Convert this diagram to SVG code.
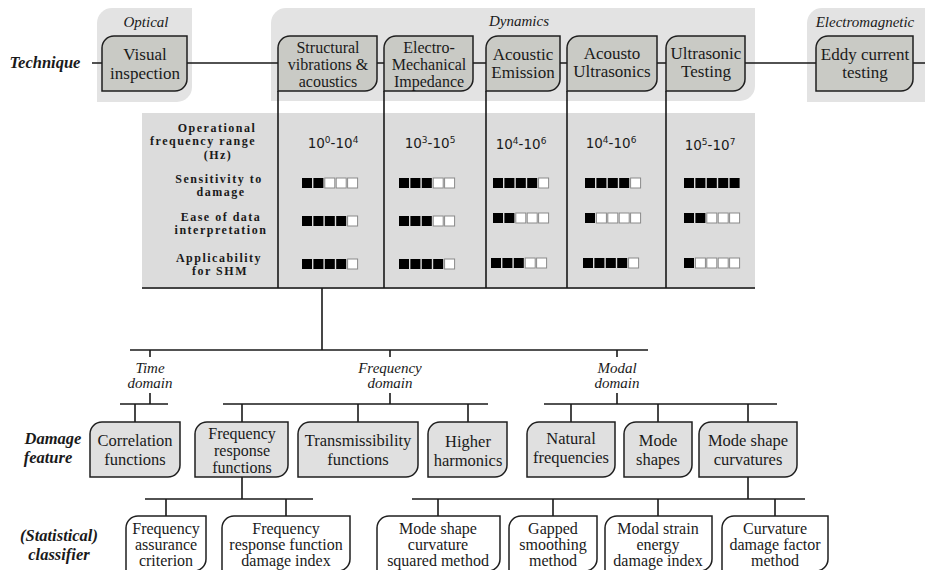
<svg xmlns="http://www.w3.org/2000/svg" width="925" height="570" viewBox="0 0 925 570">
<style>
.bg{fill:#e3e3e3;stroke:none}
.tb{fill:#c9cac5;stroke:#1f1f1f;stroke-width:1.5}
.df{fill:#e0e0e0;stroke:#1f1f1f;stroke-width:1.5}
.cl{fill:#ffffff;stroke:#1f1f1f;stroke-width:1.5}
.t{font-family:"Liberation Serif",serif;font-size:17px;fill:#1a1a1a;text-anchor:middle}
.t2{font-family:"Liberation Serif",serif;font-size:16.5px;fill:#1a1a1a;text-anchor:middle}
.t3{font-family:"Liberation Serif",serif;font-size:16px;fill:#1a1a1a;text-anchor:middle}
.it{font-family:"Liberation Serif",serif;font-size:15px;font-style:italic;fill:#1a1a1a;text-anchor:middle}
.lab{font-family:"Liberation Serif",serif;font-size:16.5px;font-style:italic;font-weight:bold;fill:#1a1a1a;text-anchor:middle}
.row{font-family:"Liberation Serif",serif;font-size:12px;font-weight:bold;letter-spacing:1.5px;fill:#1a1a1a;text-anchor:middle}
.val{font-family:"DejaVu Sans",sans-serif;font-size:13.5px;fill:#1a1a1a;text-anchor:middle}
.f{fill:#000}
.e{fill:#fff;stroke:#8a8a8a;stroke-width:1}
.ln{fill:none;stroke:#1a1a1a;stroke-width:1.6}
</style>

<g id="backgrounds">
<path class="bg" d="M97,23 A15,15 0 0 1 112,8 H192 V87 A15,15 0 0 1 177,102 H97 Z"/>
<path class="bg" d="M271,23 A15,15 0 0 1 286,8 H755 V86 A15,15 0 0 1 740,101 H271 Z"/>
<path class="bg" d="M807,23 A15,15 0 0 1 822,8 H940 V102 H807 Z"/>
<rect x="142" y="113" width="613" height="175" fill="#dcdcdc"/>
<line x1="142" y1="288" x2="755" y2="288" stroke="#444" stroke-width="2"/>
</g>

<g id="group-labels">
<text class="it" x="146" y="27">Optical</text>
<text class="it" x="519" y="26">Dynamics</text>
<text class="it" x="865" y="27">Electromagnetic</text>
<text class="lab" x="45" y="68">Technique</text>
<text class="lab" x="53" y="444">Damage</text>
<text class="lab" x="48" y="463">feature</text>
<text class="lab" x="59" y="541">(Statistical)</text>
<text class="lab" x="59" y="560">classifier</text>
</g>

<g id="connectors">
<path class="ln" d="M92,63 H102 M187,63 H278 M377,63 H384 M473,63 H486 M560,63 H567 M657,63 H666 M745,63 H816 M913,63 H925"/>
<path class="ln" d="M278,91 V288 M384,91 V288 M486,91 V288 M567,91 V288 M666,91 V288"/>
<path class="ln" d="M322,288 V350 M130,350 H648 M150,350 V357 M390,350 V357 M617,350 V357"/>
<path class="ln" d="M150,393 V404 M390,393 V404 M617,393 V404 M120,404 H168 M223,404 H488 M544,404 H777"/>
<path class="ln" d="M135,404 V422 M242,404 V422 M358,404 V422 M468,404 V422 M571,404 V422 M658,404 V422 M748,404 V422"/>
<path class="ln" d="M242,477 V499 M145,499 H313 M166,499 V516 M286,499 V516"/>
<path class="ln" d="M748,477 V499 M412,499 H805 M438,499 V516 M553,499 V516 M658,499 V516 M775,499 V516"/>
</g>

<g id="visual-inspection">
<path class="tb" d="M102,48 A12,12 0 0 1 114,36 H187 V79 A12,12 0 0 1 175,91 H102 Z"/>
<text class="t" x="145" y="60">Visual</text><text class="t" x="145" y="79">inspection</text>
</g>
<g id="structural-vibrations">
<path class="tb" d="M278,48 A12,12 0 0 1 290,36 H377 V79 A12,12 0 0 1 365,91 H278 Z"/>
<text class="t3" x="328" y="53">Structural</text><text class="t3" x="328" y="70">vibrations &amp;</text><text class="t3" x="328" y="87">acoustics</text>
</g>
<g id="emi">
<path class="tb" d="M384,48 A12,12 0 0 1 396,36 H473 V79 A12,12 0 0 1 461,91 H384 Z"/>
<text class="t3" x="429" y="53">Electro-</text><text class="t3" x="429" y="70">Mechanical</text><text class="t3" x="429" y="87">Impedance</text>
</g>
<g id="acoustic-emission">
<path class="tb" d="M486,48 A12,12 0 0 1 498,36 H560 V79 A12,12 0 0 1 548,91 H486 Z"/>
<text class="t" x="523" y="60">Acoustic</text><text class="t" x="523" y="78">Emission</text>
</g>
<g id="acousto-ultrasonics">
<path class="tb" d="M567,48 A12,12 0 0 1 579,36 H657 V79 A12,12 0 0 1 645,91 H567 Z"/>
<text class="t" x="612" y="59">Acousto</text><text class="t" x="612" y="77">Ultrasonics</text>
</g>
<g id="ultrasonic-testing">
<path class="tb" d="M666,48 A12,12 0 0 1 678,36 H745 V79 A12,12 0 0 1 733,91 H666 Z"/>
<text class="t" x="706" y="59">Ultrasonic</text><text class="t" x="706" y="77">Testing</text>
</g>
<g id="eddy-current">
<path class="tb" d="M816,48 A12,12 0 0 1 828,36 H913 V79 A12,12 0 0 1 901,91 H816 Z"/>
<text class="t" x="865" y="60">Eddy current</text><text class="t" x="865" y="78">testing</text>
</g>

<g id="table">
<text class="row" x="217" y="132">Operational</text>
<text class="row" x="203" y="145">frequency range</text>
<text class="row" x="218" y="159">(Hz)</text>
<text class="row" x="219" y="183">Sensitivity to</text>
<text class="row" x="221" y="196">damage</text>
<text class="row" x="221" y="221">Ease of data</text>
<text class="row" x="221" y="234">interpretation</text>
<text class="row" x="219" y="262">Applicability</text>
<text class="row" x="220" y="275">for SHM</text>

<text class="val" x="333" y="148">10<tspan font-size="9" dy="-5">0</tspan><tspan dy="5">-10</tspan><tspan font-size="9" dy="-5">4</tspan></text>
<text class="val" x="430" y="148">10<tspan font-size="9" dy="-5">3</tspan><tspan dy="5">-10</tspan><tspan font-size="9" dy="-5">5</tspan></text>
<text class="val" x="521" y="149">10<tspan font-size="9" dy="-5">4</tspan><tspan dy="5">-10</tspan><tspan font-size="9" dy="-5">6</tspan></text>
<text class="val" x="611" y="148">10<tspan font-size="9" dy="-5">4</tspan><tspan dy="5">-10</tspan><tspan font-size="9" dy="-5">6</tspan></text>
<text class="val" x="710" y="150">10<tspan font-size="9" dy="-5">5</tspan><tspan dy="5">-10</tspan><tspan font-size="9" dy="-5">7</tspan></text>

<rect class="f" x="302" y="178" width="10" height="10"/><rect class="f" x="313.4" y="178" width="10" height="10"/><rect class="e" x="324.8" y="178" width="10" height="10"/><rect class="e" x="336.2" y="178" width="10" height="10"/><rect class="e" x="347.6" y="178" width="10" height="10"/>
<rect class="f" x="302" y="216" width="10" height="10"/><rect class="f" x="313.4" y="216" width="10" height="10"/><rect class="f" x="324.8" y="216" width="10" height="10"/><rect class="f" x="336.2" y="216" width="10" height="10"/><rect class="e" x="347.6" y="216" width="10" height="10"/>
<rect class="f" x="302" y="259" width="10" height="10"/><rect class="f" x="313.4" y="259" width="10" height="10"/><rect class="f" x="324.8" y="259" width="10" height="10"/><rect class="f" x="336.2" y="259" width="10" height="10"/><rect class="e" x="347.6" y="259" width="10" height="10"/>
<rect class="f" x="399" y="178" width="10" height="10"/><rect class="f" x="410.4" y="178" width="10" height="10"/><rect class="f" x="421.8" y="178" width="10" height="10"/><rect class="e" x="433.2" y="178" width="10" height="10"/><rect class="e" x="444.6" y="178" width="10" height="10"/>
<rect class="f" x="399" y="216" width="10" height="10"/><rect class="f" x="410.4" y="216" width="10" height="10"/><rect class="f" x="421.8" y="216" width="10" height="10"/><rect class="e" x="433.2" y="216" width="10" height="10"/><rect class="e" x="444.6" y="216" width="10" height="10"/>
<rect class="f" x="399" y="259" width="10" height="10"/><rect class="f" x="410.4" y="259" width="10" height="10"/><rect class="f" x="421.8" y="259" width="10" height="10"/><rect class="f" x="433.2" y="259" width="10" height="10"/><rect class="e" x="444.6" y="259" width="10" height="10"/>
<rect class="f" x="493" y="178" width="10" height="10"/><rect class="f" x="504.4" y="178" width="10" height="10"/><rect class="f" x="515.8" y="178" width="10" height="10"/><rect class="f" x="527.2" y="178" width="10" height="10"/><rect class="e" x="538.6" y="178" width="10" height="10"/>
<rect class="f" x="493" y="213" width="10" height="10"/><rect class="f" x="504.4" y="213" width="10" height="10"/><rect class="e" x="515.8" y="213" width="10" height="10"/><rect class="e" x="527.2" y="213" width="10" height="10"/><rect class="e" x="538.6" y="213" width="10" height="10"/>
<rect class="f" x="491" y="258" width="10" height="10"/><rect class="f" x="502.4" y="258" width="10" height="10"/><rect class="f" x="513.8" y="258" width="10" height="10"/><rect class="e" x="525.2" y="258" width="10" height="10"/><rect class="e" x="536.6" y="258" width="10" height="10"/>
<rect class="f" x="585" y="178" width="10" height="10"/><rect class="f" x="596.4" y="178" width="10" height="10"/><rect class="f" x="607.8" y="178" width="10" height="10"/><rect class="f" x="619.2" y="178" width="10" height="10"/><rect class="e" x="630.6" y="178" width="10" height="10"/>
<rect class="f" x="585" y="213" width="10" height="10"/><rect class="e" x="596.4" y="213" width="10" height="10"/><rect class="e" x="607.8" y="213" width="10" height="10"/><rect class="e" x="619.2" y="213" width="10" height="10"/><rect class="e" x="630.6" y="213" width="10" height="10"/>
<rect class="f" x="583" y="258" width="10" height="10"/><rect class="f" x="594.4" y="258" width="10" height="10"/><rect class="f" x="605.8" y="258" width="10" height="10"/><rect class="f" x="617.2" y="258" width="10" height="10"/><rect class="e" x="628.6" y="258" width="10" height="10"/>
<rect class="f" x="684" y="178" width="10" height="10"/><rect class="f" x="695.4" y="178" width="10" height="10"/><rect class="f" x="706.8" y="178" width="10" height="10"/><rect class="f" x="718.2" y="178" width="10" height="10"/><rect class="f" x="729.6" y="178" width="10" height="10"/>
<rect class="f" x="684" y="213" width="10" height="10"/><rect class="f" x="695.4" y="213" width="10" height="10"/><rect class="e" x="706.8" y="213" width="10" height="10"/><rect class="e" x="718.2" y="213" width="10" height="10"/><rect class="e" x="729.6" y="213" width="10" height="10"/>
<rect class="f" x="684" y="258" width="10" height="10"/><rect class="e" x="695.4" y="258" width="10" height="10"/><rect class="e" x="706.8" y="258" width="10" height="10"/><rect class="e" x="718.2" y="258" width="10" height="10"/><rect class="e" x="729.6" y="258" width="10" height="10"/>
</g>

<g id="time-domain"><text class="it" x="150" y="373">Time</text><text class="it" x="150" y="388">domain</text></g>
<g id="frequency-domain"><text class="it" x="390" y="373">Frequency</text><text class="it" x="390" y="388">domain</text></g>
<g id="modal-domain"><text class="it" x="617" y="373">Modal</text><text class="it" x="617" y="388">domain</text></g>

<g id="correlation-functions">
<path class="df" d="M90,434 A12,12 0 0 1 102,422 H180 V465 A12,12 0 0 1 168,477 H90 Z"/>
<text class="t2" x="135" y="446">Correlation</text><text class="t2" x="135" y="465">functions</text>
</g>
<g id="frequency-response-functions">
<path class="df" d="M195,434 A12,12 0 0 1 207,422 H288 V465 A12,12 0 0 1 276,477 H195 Z"/>
<text class="t3" x="242" y="439">Frequency</text><text class="t3" x="242" y="456">response</text><text class="t3" x="242" y="473">functions</text>
</g>
<g id="transmissibility-functions">
<path class="df" d="M298,434 A12,12 0 0 1 310,422 H418 V465 A12,12 0 0 1 406,477 H298 Z"/>
<text class="t2" x="358" y="446">Transmissibility</text><text class="t2" x="358" y="465">functions</text>
</g>
<g id="higher-harmonics">
<path class="df" d="M428,434 A12,12 0 0 1 440,422 H507 V465 A12,12 0 0 1 495,477 H428 Z"/>
<text class="t2" x="468" y="447">Higher</text><text class="t2" x="468" y="466">harmonics</text>
</g>
<g id="natural-frequencies">
<path class="df" d="M527,434 A12,12 0 0 1 539,422 H615 V465 A12,12 0 0 1 603,477 H527 Z"/>
<text class="t2" x="571" y="444">Natural</text><text class="t2" x="571" y="463">frequencies</text>
</g>
<g id="mode-shapes">
<path class="df" d="M624,434 A12,12 0 0 1 636,422 H692 V465 A12,12 0 0 1 680,477 H624 Z"/>
<text class="t2" x="658" y="446">Mode</text><text class="t2" x="658" y="465">shapes</text>
</g>
<g id="mode-shape-curvatures">
<path class="df" d="M699,434 A12,12 0 0 1 711,422 H797 V465 A12,12 0 0 1 785,477 H699 Z"/>
<text class="t2" x="748" y="446">Mode shape</text><text class="t2" x="748" y="465">curvatures</text>
</g>

<g id="frequency-assurance-criterion">
<path class="cl" d="M126,528 A12,12 0 0 1 138,516 H206 V559 A12,12 0 0 1 194,571 H126 Z"/>
<text class="t3" x="166" y="534">Frequency</text><text class="t3" x="166" y="550">assurance</text><text class="t3" x="166" y="566">criterion</text>
</g>
<g id="frf-damage-index">
<path class="cl" d="M222,528 A12,12 0 0 1 234,516 H350 V559 A12,12 0 0 1 338,571 H222 Z"/>
<text class="t3" x="286" y="534">Frequency</text><text class="t3" x="286" y="550">response function</text><text class="t3" x="286" y="566">damage index</text>
</g>
<g id="mode-shape-curvature-squared">
<path class="cl" d="M377,528 A12,12 0 0 1 389,516 H500 V559 A12,12 0 0 1 488,571 H377 Z"/>
<text class="t3" x="438" y="534">Mode shape</text><text class="t3" x="438" y="550">curvature</text><text class="t3" x="438" y="566">squared method</text>
</g>
<g id="gapped-smoothing">
<path class="cl" d="M509,528 A12,12 0 0 1 521,516 H597 V559 A12,12 0 0 1 585,571 H509 Z"/>
<text class="t3" x="553" y="534">Gapped</text><text class="t3" x="553" y="550">smoothing</text><text class="t3" x="553" y="566">method</text>
</g>
<g id="modal-strain-energy">
<path class="cl" d="M605,528 A12,12 0 0 1 617,516 H712 V559 A12,12 0 0 1 700,571 H605 Z"/>
<text class="t3" x="658" y="534">Modal strain</text><text class="t3" x="658" y="550">energy</text><text class="t3" x="658" y="566">damage index</text>
</g>
<g id="curvature-damage-factor">
<path class="cl" d="M722,528 A12,12 0 0 1 734,516 H828 V559 A12,12 0 0 1 816,571 H722 Z"/>
<text class="t3" x="775" y="534">Curvature</text><text class="t3" x="775" y="550">damage factor</text><text class="t3" x="775" y="566">method</text>
</g>
</svg>
